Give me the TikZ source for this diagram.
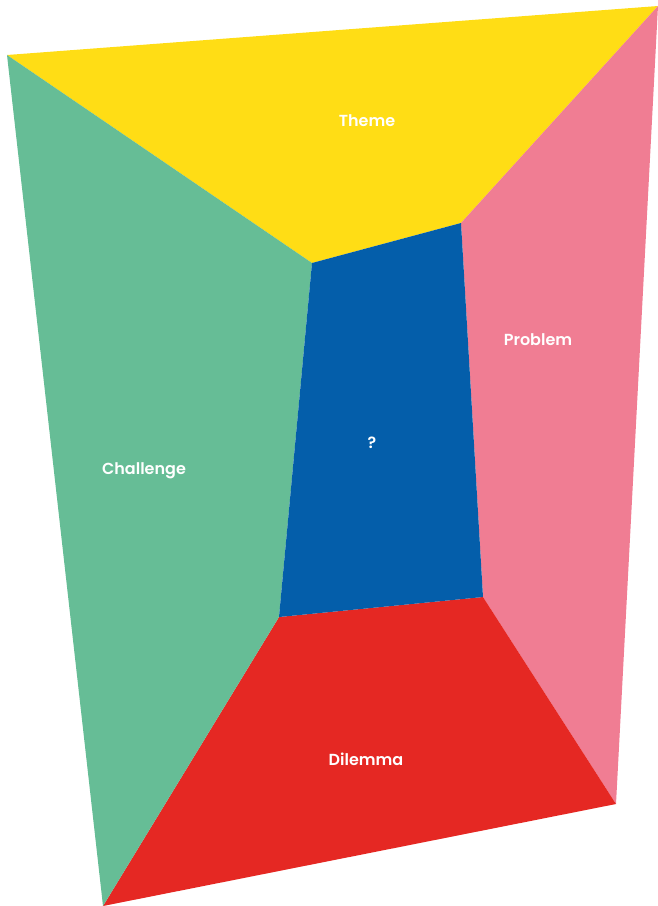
\documentclass[tikz,border=0pt]{standalone}
\usepackage{fontspec}
\setmainfont{Poppins}[UprightFont=* SemiBold, BoldFont=* Bold]
\definecolor{themeY}{HTML}{FFDD15}
\definecolor{challengeG}{HTML}{66BD96}
\definecolor{problemP}{HTML}{F07D93}
\definecolor{centreB}{HTML}{045EAA}
\definecolor{dilemmaR}{HTML}{E52823}
\begin{document}
\begin{tikzpicture}[x=1pt,y=-1pt,
  lbl/.style={text=white, font=\fontsize{16}{18}\selectfont, inner sep=0pt}]
\useasboundingbox (0,0) rectangle (658,906);
% outer and inner corners of the room
\coordinate (oTL) at (7,55);
\coordinate (oTR) at (658,6);
\coordinate (oBR) at (616,804);
\coordinate (oBL) at (103,906);
\coordinate (iTL) at (312,263);
\coordinate (iTR) at (461,223);
\coordinate (iBR) at (483,597);
\coordinate (iBL) at (279,617);
% walls
\fill[themeY] (oTL) -- (oTR) -- (iTR) -- (iTL) -- cycle;
\fill[problemP] (oTR) -- (oBR) -- (iBR) -- (iTR) -- cycle;
\fill[dilemmaR] (oBR) -- (oBL) -- (iBL) -- (iBR) -- cycle;
\fill[challengeG] (oBL) -- (oTL) -- (iTL) -- (iBL) -- cycle;
\fill[centreB] (iTL) -- (iTR) -- (iBR) -- (iBL) -- cycle;
% labels
\node[lbl] (theme) at (367,121) {Theme};
\node[lbl] (problem) at (538,340) {Problem};
\node[lbl] (centre) at (372,443) {?};
\node[lbl] (challenge) at (144,471) {Challenge};
\node[lbl] (dilemma) at (366,759) {Dilemma};
\end{tikzpicture}
\end{document}
